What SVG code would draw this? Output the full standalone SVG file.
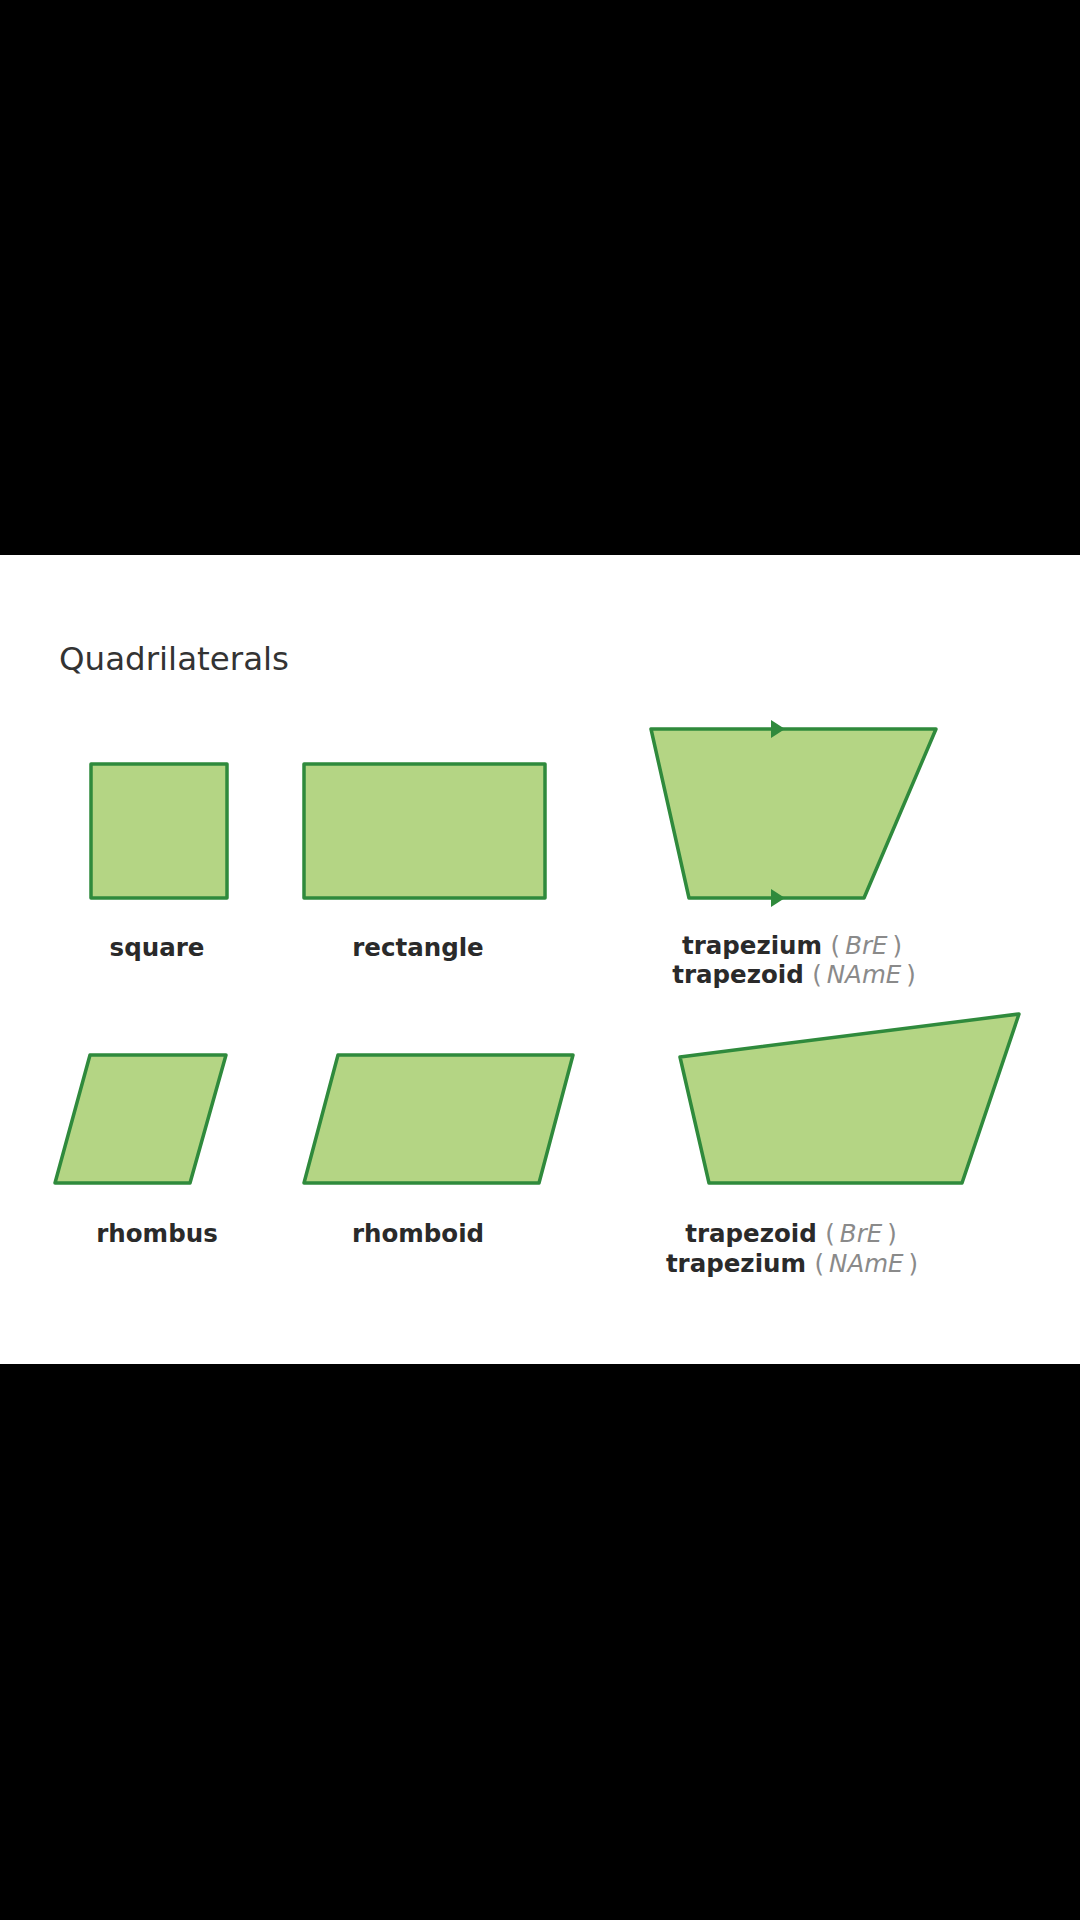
<svg xmlns="http://www.w3.org/2000/svg" width="1080" height="1920" viewBox="0 0 1080 1920">
<defs>
<style>
.shape{fill:#b4d584;stroke:#2f8a3c;stroke-width:3.5;stroke-linejoin:round}
.lbl{font-family:"DejaVu Sans","Liberation Sans",sans-serif;font-size:24.5px;font-weight:bold;fill:#2a2a2a;text-anchor:middle}
.reg{font-weight:normal;fill:#8a8a8a}
.it{font-style:italic}
.title{font-family:"DejaVu Sans","Liberation Sans",sans-serif;font-size:32.5px;fill:#333333}
.mark{fill:#2f8a3c}
</style>
</defs>
<rect x="0" y="0" width="1080" height="1920" fill="#000000"/>
<rect x="0" y="555" width="1080" height="809" fill="#ffffff"/>
<text class="title" x="59" y="670">Quadrilaterals</text>
<g id="square">
<rect class="shape" x="91" y="764" width="136" height="134"/>
<text class="lbl" x="157" y="956">square</text>
</g>
<g id="rectangle">
<rect class="shape" x="304" y="764" width="241" height="134"/>
<text class="lbl" x="418" y="956">rectangle</text>
</g>
<g id="trapezium-top">
<polygon class="shape" points="651,729 936,729 864,898 689,898"/>
<polygon class="mark" points="771,720 785,729 771,738"/>
<polygon class="mark" points="771,889 785,898 771,907"/>
<text class="lbl" x="792" y="954">trapezium <tspan class="reg">(<tspan class="it" dx="5">BrE</tspan><tspan dx="5">)</tspan></tspan></text>
<text class="lbl" x="794" y="983">trapezoid <tspan class="reg">(<tspan class="it" dx="5">NAmE</tspan><tspan dx="5">)</tspan></tspan></text>
</g>
<g id="rhombus">
<polygon class="shape" points="90,1055 226,1055 190,1183 55,1183"/>
<text class="lbl" x="157" y="1242">rhombus</text>
</g>
<g id="rhomboid">
<polygon class="shape" points="338,1055 573,1055 539,1183 304,1183"/>
<text class="lbl" x="418" y="1242">rhomboid</text>
</g>
<g id="trapezoid-bottom">
<polygon class="shape" points="680,1057 1019,1014 962,1183 709,1183"/>
<text class="lbl" x="791" y="1242">trapezoid <tspan class="reg">(<tspan class="it" dx="5">BrE</tspan><tspan dx="5">)</tspan></tspan></text>
<text class="lbl" x="792" y="1272">trapezium <tspan class="reg">(<tspan class="it" dx="5">NAmE</tspan><tspan dx="5">)</tspan></tspan></text>
</g>
</svg>
